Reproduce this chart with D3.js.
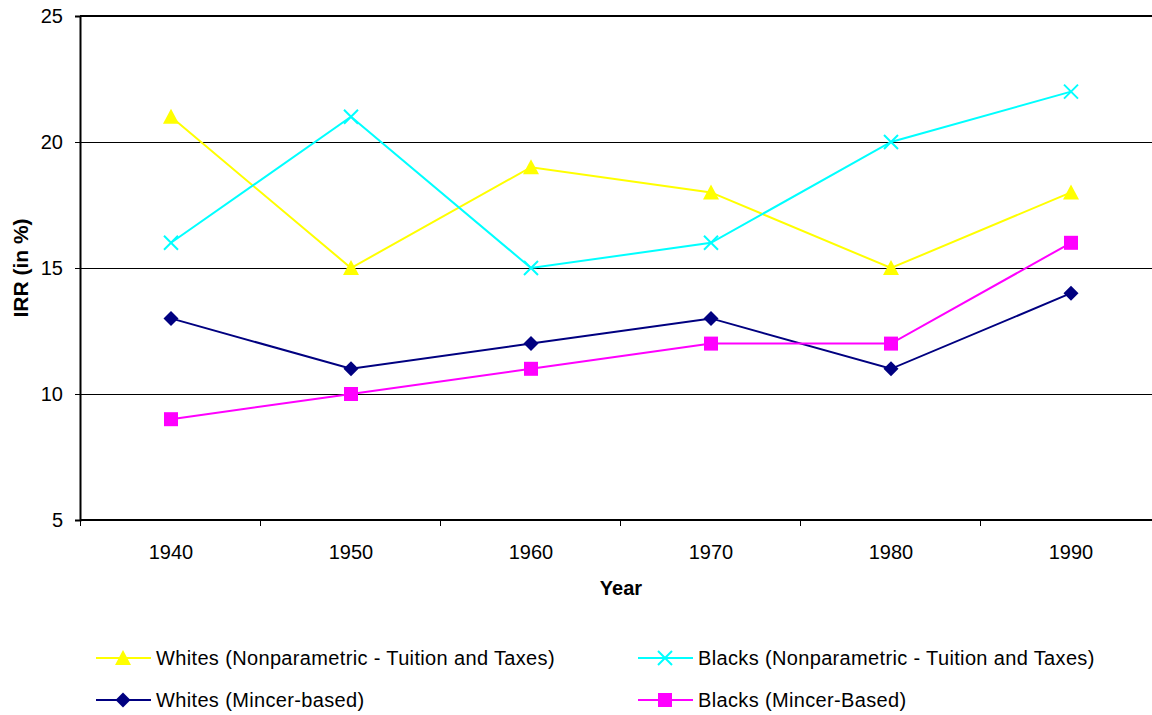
<!DOCTYPE html>
<html>
<head>
<meta charset="utf-8">
<script src="https://cdn.jsdelivr.net/npm/d3@7"></script>
<style>
  html, body { margin: 0; padding: 0; background: #fff; overflow: hidden; }
  svg { display: block; font-family: Arial, "Liberation Sans", sans-serif; }
</style>
</head>
<body>
<div id="chart"></div>
<script>
const years = ["1940", "1950", "1960", "1970", "1980", "1990"];
const whitesNonparam = [21, 15, 19, 18, 15, 18];
const blacksNonparam = [16, 21, 15, 16, 20, 22];
const whitesMincer = [13, 11, 12, 13, 11, 14];
const blacksMincer = [9, 10, 11, 12, 12, 16];
const yTicks = [5, 10, 15, 20, 25];

const series = [
    { name: "Whites (Nonparametric - Tuition and Taxes)", values: whitesNonparam, color: "#ffff00", marker: "triangle" },
    { name: "Blacks (Nonparametric - Tuition and Taxes)", values: blacksNonparam, color: "#00ffff", marker: "x" },
    { name: "Whites (Mincer-based)", values: whitesMincer, color: "#000080", marker: "diamond" },
    { name: "Blacks (Mincer-Based)", values: blacksMincer, color: "#ff00ff", marker: "square" }
];

const width = 1152, height = 715;
const margin = { left: 80, top: 16, bottom: 195 };
const plotRight = 1161;
const fontSize = 20;

const svg = d3.select("#chart").append("svg")
    .attr("width", width)
    .attr("height", height);

const x = d3.scaleBand()
    .domain(years)
    .range([margin.left + 1, plotRight]);

const y = d3.scaleLinear()
    .domain([5, 25])
    .range([height - margin.bottom, margin.top]);

// gridlines
svg.append("g")
    .selectAll("line")
    .data(yTicks.filter(d => d > 5 && d < 25))
    .enter().append("line")
    .attr("x1", margin.left).attr("x2", plotRight)
    .attr("y1", d => y(d) + 0.5).attr("y2", d => y(d) + 0.5)
    .attr("stroke", "#000").attr("stroke-width", 1);

// top border
svg.append("line")
    .attr("x1", margin.left).attr("x2", plotRight)
    .attr("y1", y(25)).attr("y2", y(25))
    .attr("stroke", "#000").attr("stroke-width", 2);

// y axis
const yAxis = svg.append("g")
    .attr("transform", `translate(${margin.left},0)`)
    .call(d3.axisLeft(y).tickValues(yTicks).tickSize(5).tickPadding(12));
yAxis.select(".domain").attr("stroke-width", 2);
yAxis.selectAll("text").attr("font-size", fontSize).attr("fill", "#000")
    .style("font-family", "Arial, 'Liberation Sans', sans-serif");

// x axis: ticks between categories
const xAxis = svg.append("g")
    .attr("transform", `translate(0,${y(5)})`);
xAxis.append("line")
    .attr("x1", margin.left).attr("x2", plotRight)
    .attr("stroke", "#000").attr("stroke-width", 2);
xAxis.selectAll(".tk")
    .data(years)
    .enter().append("line")
    .attr("class", "tk")
    .attr("x1", d => x(d) - 0.5).attr("x2", d => x(d) - 0.5)
    .attr("y1", 0).attr("y2", 6)
    .attr("stroke", "#000").attr("stroke-width", 1);
xAxis.selectAll("text")
    .data(years)
    .enter().append("text")
    .attr("x", d => x(d) + x.bandwidth() / 2)
    .attr("y", 39)
    .attr("text-anchor", "middle")
    .attr("font-size", fontSize)
    .text(d => d);

// axis titles
svg.append("text")
    .attr("x", 621).attr("y", 595)
    .attr("text-anchor", "middle")
    .attr("font-size", fontSize).attr("font-weight", "bold")
    .text("Year");
svg.append("text")
    .attr("transform", `translate(28,${(y(5) + y(25)) / 2}) rotate(-90)`)
    .attr("text-anchor", "middle")
    .attr("font-size", fontSize + 1).attr("font-weight", "bold")
    .text("IRR (in %)");

function drawMarker(g, type, color) {
    if (type === "triangle") {
        g.append("path").attr("d", "M0,-8L8,7L-8,7Z").attr("fill", color);
    } else if (type === "x") {
        g.append("path").attr("d", "M-7,-7L7,7M-7,7L7,-7")
            .attr("stroke", color).attr("stroke-width", 2).attr("fill", "none");
    } else if (type === "diamond") {
        g.append("path").attr("d", "M0,-7.5L7.5,0L0,7.5L-7.5,0Z").attr("fill", color);
    } else if (type === "square") {
        g.append("rect").attr("x", -7).attr("y", -7).attr("width", 14).attr("height", 14).attr("fill", color);
    }
}

const line = d3.line()
    .x((d, i) => x(years[i]) + x.bandwidth() / 2)
    .y(d => y(d));

series.forEach(s => {
    const g = svg.append("g");
    g.append("path")
        .datum(s.values)
        .attr("d", line)
        .attr("fill", "none")
        .attr("stroke", s.color)
        .attr("stroke-width", 2);
    s.values.forEach((v, i) => {
        const m = g.append("g")
            .attr("transform", `translate(${x(years[i]) + x.bandwidth() / 2},${y(v)})`);
        drawMarker(m, s.marker, s.color);
    });
});

// legend
const legendPos = [
    { x: 96, y: 658 },
    { x: 638, y: 658 },
    { x: 96, y: 700 },
    { x: 638, y: 700 }
];
series.forEach((s, i) => {
    const p = legendPos[i];
    const g = svg.append("g").attr("transform", `translate(${p.x},${p.y})`);
    g.append("line").attr("x1", 0).attr("x2", 55)
        .attr("stroke", s.color).attr("stroke-width", 2);
    drawMarker(g.append("g").attr("transform", "translate(27,0)"), s.marker, s.color);
    g.append("text")
        .attr("x", 60).attr("y", 7)
        .attr("font-size", fontSize)
        .attr("letter-spacing", 0.35)
        .text(s.name);
});
</script>
</body>
</html>
